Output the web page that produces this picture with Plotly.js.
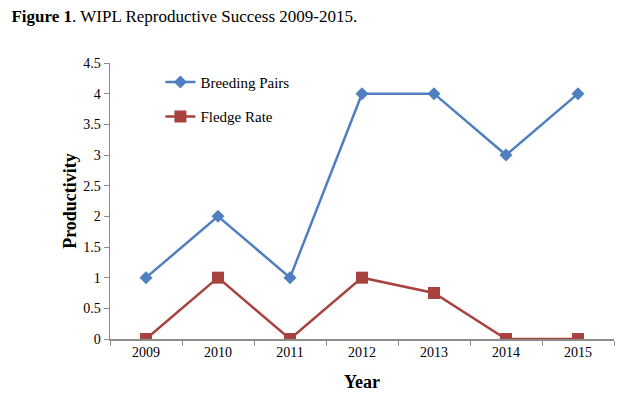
<!DOCTYPE html>
<html>
<head>
<meta charset="utf-8">
<script src="https://cdn.plot.ly/plotly-3.0.1.min.js"></script>
<style>
  html, body { margin: 0; padding: 0; background: #fff; }
  #chart { width: 638px; height: 409px; }
</style>
</head>
<body>
<div id="chart"></div>
<script>
// WIPL reproductive success --------------------------------------------------
const years = ['2009', '2010', '2011', '2012', '2013', '2014', '2015'];
const breedingPairs = [1, 2, 1, 4, 4, 3, 4];
const fledgeRate = [0, 1, 0, 1, 0.75, 0, 0];

const serif = 'Liberation Serif, Times New Roman, serif';
const axisGrey = '#8c8c8c';

const traces = [
    {
        type: 'scatter', mode: 'lines+markers', name: 'Breeding Pairs',
        x: years, y: breedingPairs, legendgroup: 'bp',
        line: { color: '#4f7fc0', width: 2.5 },
        marker: { symbol: 'diamond', size: 10, color: '#4f7fc0' },
    },
    {
        type: 'scatter', mode: 'lines+markers', name: 'Fledge Rate',
        x: years, y: fledgeRate, legendgroup: 'fr',
        line: { color: '#a8423f', width: 2.5 },
        marker: { symbol: 'square', size: 12, color: '#a8423f' },
    },
];

const layout = {
    width: 638, height: 409,
    paper_bgcolor: '#fff', plot_bgcolor: '#fff',
    font: { family: serif, color: '#000', size: 14 },
    margin: { l: 110, r: 24, t: 63, b: 70 },
    title: {
        text: '<b>Figure 1</b>. WIPL Reproductive Success 2009-2015.',
        xref: 'container', yref: 'container', x: 0.018, xanchor: 'left',
        y: 0.975, yanchor: 'top',
        font: { family: serif, size: 17, color: '#000' },
    },
    xaxis: {
        type: 'category', range: [-0.5, 6.5],
        showgrid: false, zeroline: false,
        showline: true, linecolor: axisGrey, linewidth: 1.5,
        ticks: 'outside', tickson: 'boundaries', ticklen: 5, tickcolor: axisGrey,
        tickfont: { family: serif, size: 14, color: '#000' },
        title: { text: '<b>Year</b>', font: { family: serif, size: 18, color: '#000' }, standoff: 16 },
    },
    yaxis: {
        range: [0, 4.5], dtick: 0.5,
        showgrid: false, zeroline: false,
        showline: true, linecolor: axisGrey, linewidth: 1.5,
        ticks: 'outside', ticklen: 5, tickcolor: axisGrey,
        tickfont: { family: serif, size: 14, color: '#000' },
        title: { text: '<b>Productivity</b>', font: { family: serif, size: 18, color: '#000' }, standoff: 2 },
    },
    showlegend: true,
    legend: {
        x: 0.1, y: 0.99, xanchor: 'left', yanchor: 'top',
        traceorder: 'grouped', tracegroupgap: 12,
        bgcolor: 'rgba(0,0,0,0)',
        font: { family: serif, size: 15, color: '#000' },
    },
};

Plotly.newPlot('chart', traces, layout, { displayModeBar: false, staticPlot: true });
</script>
</body>
</html>
